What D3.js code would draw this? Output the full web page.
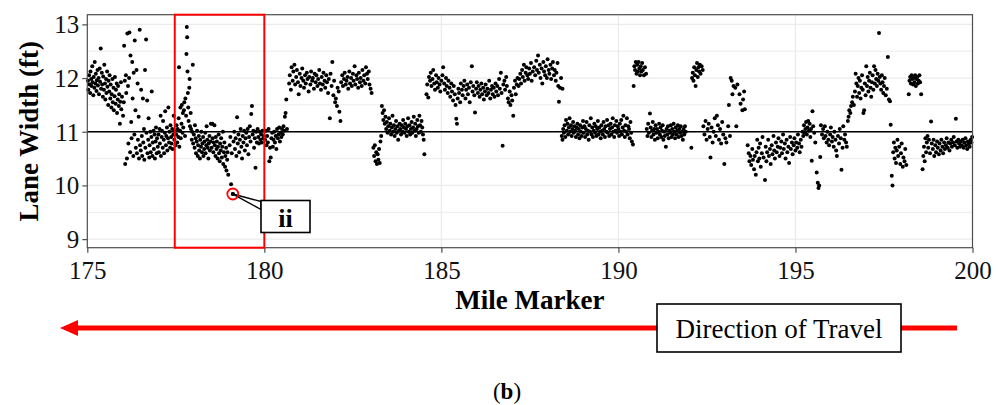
<!DOCTYPE html>
<html>
<head>
<meta charset="utf-8">
<script src="https://cdn.jsdelivr.net/npm/d3@7"></script>
<style>
  body { margin: 0; background: #fff; }
  svg { display: block; }
</style>
</head>
<body>
<div id="chart"></div>
<script>
// lane width readings (mile marker, width in ft), split by stretch of road
const seg175 = [
  [175.02,11.95],[175.03,11.78],[175.05,12.05],[175.06,11.88],[175.08,11.72],[175.09,12.12],[175.11,11.98],[175.12,11.85],[175.14,12.22],[175.15,11.92],
  [175.17,11.68],[175.18,12.02],[175.2,11.82],[175.21,12.3],[175.23,11.9],[175.24,12.08],[175.26,11.76],[175.27,11.96],[175.29,12.15],[175.3,11.86],
  [175.32,12.0],[175.33,11.7],[175.35,12.18],[175.36,11.93],[175.38,12.55],[175.39,11.8],[175.41,12.1],[175.42,11.88],[175.44,11.65],[175.45,12.03],
  [175.47,11.78],[175.48,12.25],[175.5,11.9],[175.51,11.6],[175.53,11.98],[175.54,11.72],[175.56,12.12],[175.57,11.84],[175.59,11.5],[175.6,11.95],
  [175.62,11.75],[175.63,12.05],[175.65,11.62],[175.66,11.88],[175.68,11.45],[175.69,11.7],[175.71,11.98],[175.72,11.55],[175.74,11.82],[175.75,11.4],
  [175.77,11.66],[175.78,12.02],[175.8,11.52],[175.81,11.78],[175.83,11.9],[175.84,11.35],[175.86,11.6],[175.87,11.85],[175.89,11.48],[175.9,11.7],
  [175.92,11.15],[175.93,11.56],[175.95,11.92],[175.96,11.42],[175.98,11.65],
  [176.01,11.3],[176.03,11.55],[176.04,12.6],[176.06,11.95],[176.07,10.4],[176.09,12.05],[176.1,11.72],[176.12,10.5],[176.13,12.83],[176.15,11.85],
  [176.16,10.78],[176.18,12.0],[176.19,12.85],[176.21,10.62],[176.22,12.42],[176.24,11.18],[176.25,10.88],[176.27,12.3],[176.28,11.62],[176.3,10.55],
  [176.31,12.1],[176.33,10.95],[176.34,12.7],[176.36,11.4],[176.37,10.7],[176.39,12.15],[176.4,10.6],[176.42,11.9],[176.43,10.85],[176.45,11.28],
  [176.46,10.5],[176.48,12.9],[176.49,10.75],
  [176.51,10.65],[176.52,11.78],[176.54,10.92],[176.55,10.55],[176.57,11.62],[176.58,10.8],[176.6,11.05],[176.61,10.48],[176.63,12.15],[176.64,10.7],
  [176.66,12.72],[176.67,10.98],[176.69,11.58],[176.7,10.6],[176.72,10.85],[176.73,11.25],[176.75,10.52],[176.76,10.75],[176.78,11.0],[176.79,10.62],
  [176.81,10.9],[176.82,11.75],[176.84,10.55],[176.85,10.8],[176.87,11.02],[176.88,10.68],[176.9,10.95],[176.91,10.5],[176.93,10.82],[176.94,11.08],
  [176.96,10.6],[176.97,10.88],[176.99,10.72],
  [177.01,10.95],[177.02,10.62],[177.04,11.05],[177.05,10.78],[177.07,11.3],[177.08,10.55],[177.1,10.9],[177.11,11.02],[177.13,10.7],[177.14,11.2],
  [177.16,10.85],[177.17,10.6],[177.19,10.98],[177.2,11.38],[177.22,10.75],[177.23,10.92],[177.25,11.08],[177.26,10.65],[177.28,10.88],[177.29,11.45],
  [177.31,10.8],[177.32,11.0],[177.34,10.7],[177.35,11.12],[177.37,10.9],[177.38,10.78],[177.4,11.05],[177.41,10.68],[177.43,10.95],[177.44,11.3],
  [177.46,10.85],[177.47,11.02],[177.49,10.75]
];

const seg1775 = [
  [177.51,10.95],[177.52,11.12],[177.54,10.8],[177.55,11.05],[177.57,10.9],[177.58,11.25],[177.59,12.2],[177.6,10.72],[177.62,11.02],[177.63,11.45],
  [177.64,10.88],[177.66,11.15],[177.67,11.5],[177.69,10.98],[177.7,11.35],[177.71,11.08],[177.73,11.4],[177.74,11.55],[177.76,10.92],[177.77,11.62],
  [177.79,11.3],[177.8,12.45],[177.81,12.95],[177.82,12.76],[177.83,12.12],[177.84,11.72],[177.85,11.45],[177.86,11.2],[177.88,11.82],[177.89,11.98],
  [177.9,11.1],[177.92,11.35],[177.93,11.05],[177.95,10.85],[177.96,11.0],[177.98,12.25],[177.99,10.78],
  [178.01,10.95],[178.03,10.7],[178.04,11.12],[178.06,10.88],[178.07,10.6],[178.09,10.82],[178.1,11.02],[178.12,10.55],[178.13,10.75],[178.15,10.92],
  [178.16,10.65],[178.18,10.5],[178.19,10.85],[178.21,10.72],[178.22,11.0],[178.24,10.62],[178.25,10.78],[178.27,10.9],[178.28,10.55],[178.3,10.68],
  [178.31,10.82],[178.33,10.98],[178.34,10.6],[178.36,10.75],[178.37,11.1],[178.39,10.85],[178.4,10.7],[178.42,10.5],[178.43,10.78],[178.45,10.92],
  [178.46,10.65],[178.48,10.82],[178.49,11.15],
  [178.51,10.7],[178.53,11.15],[178.54,10.88],[178.56,10.62],[178.57,10.8],[178.59,11.12],[178.6,10.75],[178.62,10.55],[178.63,10.9],[178.65,10.68],
  [178.66,10.82],[178.68,10.5],[178.69,10.72],[178.71,10.95],[178.72,10.6],[178.74,10.45],[178.75,10.78],[178.77,10.65],[178.78,10.88],[178.8,10.52],
  [178.81,10.72],[178.83,11.0],[178.84,10.4],[178.86,10.62],[178.87,10.8],[178.89,10.35],[178.9,10.55],[178.92,10.7],[178.93,10.28],[178.95,10.48],
  [178.96,10.62],[178.98,10.2],
  [179.02,10.75],[179.04,10.9],[179.06,10.02],[179.08,10.6],[179.11,9.84],[179.13,10.82],[179.15,11.0],[179.17,10.68],[179.19,10.88],[179.21,10.55],
  [179.23,11.27],[179.25,10.78],[179.27,10.95],[179.29,10.62],[179.31,10.85],[179.33,11.05],[179.35,10.72],[179.37,10.5],[179.39,10.92],[179.41,10.8],
  [179.43,11.02],[179.45,10.65],[179.47,10.88],[179.49,10.98],
  [179.51,10.75],[179.53,11.05],[179.55,10.58],[179.57,10.9],[179.59,11.1],[179.61,10.82],[179.63,11.33],[179.65,11.48],[179.67,10.95],[179.69,11.02],
  [179.71,10.7],[179.73,10.88],[179.75,10.33],[179.77,11.0],[179.79,10.8],[179.81,11.05],[179.83,10.9],[179.85,10.78],[179.87,11.0],[179.89,10.85],
  [179.91,10.95],[179.93,10.8],[179.95,11.02],[179.97,10.88],[179.99,10.92]
];

const seg180 = [
  [180.02,10.85],[180.04,11.02],[180.06,10.75],[180.08,10.92],[180.1,10.8],[180.12,11.05],[180.14,10.45],[180.16,10.7],[180.18,10.52],[180.2,10.88],
  [180.22,10.98],[180.24,10.72],[180.26,10.85],[180.28,11.0],[180.3,10.8],[180.32,10.92],[180.34,10.68],[180.36,11.05],[180.38,10.88],[180.4,10.95],
  [180.42,11.08],[180.44,10.82],[180.46,10.98],[180.48,10.9],[180.5,11.05],[180.52,10.95],[180.54,11.1],[180.56,11.02],[180.58,11.28],[180.6,11.35],
  [180.62,11.6],[180.64,11.05],
  [180.7,11.9],[180.72,12.05],[180.75,11.78],[180.77,12.2],[180.8,11.95],[180.82,12.12],[180.85,12.25],[180.87,11.88],[180.9,12.02],[180.92,12.15],
  [180.95,11.92],[180.97,11.7],[181.0,12.08],[181.02,11.85],[181.05,12.0],[181.07,12.18],[181.1,11.95],[181.12,11.82],[181.15,12.05],[181.17,11.9],
  [181.2,12.1],[181.22,11.98],[181.25,11.75],[181.27,12.02],[181.3,11.88],[181.32,12.12],[181.35,11.95],[181.37,12.0],[181.4,11.8],[181.42,12.08],
  [181.45,11.92],[181.47,12.05],[181.5,11.85],[181.52,11.98],[181.55,12.15],[181.57,11.9],[181.6,11.78],[181.62,12.02],[181.65,11.88],[181.67,12.1],
  [181.7,11.95],[181.72,11.82],[181.75,12.05],[181.77,11.92],[181.8,11.72],[181.82,11.98],[181.85,11.25],[181.87,12.08],[181.9,11.85],[181.92,12.3],
  [181.95,11.68],[181.97,11.95],[182.0,11.55],
  [182.02,11.62],[182.05,11.48],[182.07,11.82],[182.1,11.75],[182.12,11.37],[182.15,11.2],[182.17,11.92],[182.2,12.05],[182.22,11.85],[182.25,11.98],
  [182.27,12.1],[182.3,11.88],[182.32,11.95],[182.35,12.02],[182.37,11.8],[182.4,12.12],[182.42,11.9],[182.45,12.0],[182.47,11.85],[182.5,12.08],
  [182.52,11.95],[182.55,12.22],[182.57,11.88],[182.6,12.05],[182.62,11.98],[182.65,11.82],[182.67,12.1],[182.7,11.92],[182.72,12.0],[182.75,11.85],
  [182.77,12.15],[182.8,11.95],[182.82,12.05],[182.85,11.9],[182.87,12.2],[182.9,12.08],[182.92,11.98],[182.95,12.12],[182.97,11.88],[183.0,11.8],
  [183.03,11.72],
  [183.08,10.7],[183.1,10.55],[183.12,10.75],[183.14,10.45],[183.16,10.62],[183.18,10.4],[183.2,10.58],[183.22,10.48],[183.24,10.68],[183.26,10.42],
  [183.28,10.82],[183.3,10.92],
  [183.32,11.48],[183.34,11.35],[183.36,11.22],[183.38,11.4],[183.4,11.15],[183.42,11.28],[183.44,11.05],[183.46,11.18],[183.48,10.98],[183.5,11.1],
  [183.52,11.25],[183.54,11.02],[183.56,11.15],[183.58,10.95],[183.6,11.08],[183.62,11.3],[183.64,11.0],[183.66,11.12],[183.68,10.92],[183.7,11.05],
  [183.72,11.2],[183.74,10.98],[183.76,11.1],[183.78,10.85],[183.8,11.02],[183.82,11.15],[183.84,11.05],[183.86,10.95],[183.88,11.12],[183.9,11.0],
  [183.92,11.22],[183.94,11.08],[183.96,10.98],[183.98,11.15],[184.0,11.05],[184.02,10.92],[184.04,11.1],[184.06,11.25],[184.08,11.0],[184.1,11.12],
  [184.12,10.95],[184.14,11.05],[184.16,11.18],[184.18,10.98],[184.2,11.08],[184.22,11.28],[184.24,11.02],[184.26,11.15],[184.28,10.92],[184.3,11.05],
  [184.32,11.22],[184.34,11.1],[184.36,10.98],[184.38,11.3],[184.4,11.12],[184.42,11.0],[184.44,11.2],[184.46,11.08],[184.48,10.95],[184.5,10.85],
  [184.52,10.58],
  [184.58,11.7],[184.6,11.88],[184.63,11.64],[184.65,12.02],[184.68,11.95],[184.7,12.1],[184.72,11.85],[184.75,11.98],[184.77,12.15],[184.8,11.9],
  [184.82,11.78],[184.85,12.05],[184.87,11.92],[184.9,11.82],[184.92,12.0],[184.95,11.88],[184.97,11.75],[185.0,11.95]
];

const seg185 = [
  [185.03,12.05],[185.05,12.2],[185.08,11.9],[185.1,11.78],[185.13,12.0],[185.15,11.85],[185.18,11.72],[185.2,11.95],[185.23,11.82],[185.25,11.65],
  [185.28,11.9],[185.3,11.75],[185.33,11.58],[185.35,11.85],[185.38,11.7],[185.4,11.5],[185.42,11.24],[185.44,11.15],[185.46,11.62],[185.48,11.8],
  [185.5,11.72],[185.53,11.55],[185.55,11.9],[185.58,11.78],[185.6,11.68],[185.63,11.85],[185.65,11.95],[185.68,11.62],[185.7,11.78],[185.73,11.88],
  [185.75,11.7],[185.78,11.82],[185.8,11.55],[185.83,11.92],[185.86,12.22],[185.88,11.75],[185.9,11.85],[185.93,11.68],[185.95,11.36],[185.98,11.8],
  [186.0,11.92],[186.03,11.72],[186.05,11.85],[186.08,11.65],[186.1,11.78],[186.13,11.9],[186.15,11.7],[186.18,11.82],[186.2,11.6],[186.23,11.75],
  [186.25,11.88],[186.28,11.68],[186.3,11.8],[186.33,11.72],[186.35,11.95],[186.38,11.62],[186.4,11.78],[186.43,11.85],[186.45,11.7],[186.48,11.82],
  [186.5,11.65],[186.53,11.9],[186.55,11.75],[186.58,11.85],[186.6,11.68],[186.63,11.98],[186.65,11.8],[186.68,12.1],[186.7,11.72],[186.73,10.74],
  [186.75,11.88],[186.78,11.95],[186.8,11.78],[186.83,12.02],[186.85,11.85],[186.88,11.62],[186.9,11.55],[186.93,11.75],[186.95,11.5],[186.98,11.68],
  [187.0,11.58],[187.03,11.3],[187.05,11.82],[187.08,11.95],[187.1,11.7],[187.13,11.88],[187.15,12.0],[187.18,11.85],[187.2,11.98],[187.23,12.08],
  [187.25,11.9],[187.28,12.15],[187.3,12.02],[187.33,12.25],[187.35,11.95],[187.38,12.1],[187.4,12.2],[187.43,12.05],[187.45,11.98],[187.48,12.18],
  [187.5,12.08],[187.53,12.28],[187.55,11.95],[187.58,12.12],
  [187.62,12.2],[187.65,12.05],[187.68,12.32],[187.7,12.15],[187.73,12.42],[187.75,12.1],[187.78,12.25],[187.8,12.0],[187.83,12.18],[187.85,11.9],
  [187.88,12.3],[187.9,12.12],[187.93,12.05],[187.95,12.22],[187.98,12.0],[188.0,12.35],[188.03,12.15],[188.05,12.08],[188.08,12.25],[188.1,11.98],
  [188.13,12.18],[188.15,12.3],[188.18,12.05],[188.2,12.15],[188.23,11.95],[188.25,12.1],[188.28,12.28],[188.3,11.85],[188.32,11.56],[188.35,11.82],
  [188.38,12.0],[188.42,11.8],
  [188.4,10.92],[188.42,10.85],[188.44,11.05],[188.46,10.98],[188.48,11.12],[188.5,10.9],[188.52,11.22],[188.54,11.02],[188.56,11.15],[188.58,10.95],
  [188.6,11.08],[188.62,11.25],[188.64,11.0],[188.66,11.12],[188.68,10.92],[188.7,11.05],[188.72,11.18],[188.74,10.98],[188.76,11.1],[188.78,11.02],
  [188.8,10.9],[188.82,11.08],[188.84,11.15],[188.86,10.95],[188.88,11.05],[188.9,10.88],[188.92,11.12],[188.94,11.0],[188.96,10.92],[188.98,11.08],
  [189.0,11.2],[189.02,10.98],[189.04,11.1],[189.06,10.9],[189.08,11.05],[189.1,11.18],[189.12,10.95],[189.14,11.02],[189.16,10.85],[189.18,11.12],
  [189.2,11.0],[189.22,11.25],[189.24,10.95],[189.26,11.08],[189.28,10.9],[189.3,11.02],[189.32,11.15],[189.34,10.98],[189.36,11.1],[189.38,10.92],
  [189.4,11.05],[189.42,11.2],[189.44,10.95],[189.46,11.08],[189.48,11.0],[189.5,10.88],[189.52,11.12],[189.54,11.02],[189.56,10.95],[189.58,11.18],
  [189.6,11.05],[189.62,10.9],[189.64,11.1],[189.66,11.0],[189.68,11.22],[189.7,10.98],[189.72,11.12],[189.74,10.92],[189.76,11.05],[189.78,11.15],
  [189.8,10.95],[189.82,11.08],[189.84,11.25],[189.86,11.0],[189.88,10.9],[189.9,11.12],[189.92,11.02],[189.94,11.2],[189.96,10.98],[189.98,11.1]
];

const seg190 = [
  [190.0,11.05],[190.02,10.92],[190.04,11.15],[190.06,11.0],[190.08,11.22],[190.1,10.95],[190.12,11.08],[190.14,11.3],[190.16,11.02],[190.18,10.9],
  [190.2,11.12],[190.22,11.0],[190.24,11.25],[190.26,10.95],[190.28,11.1],[190.3,11.05],[190.32,10.88],[190.34,11.18],[190.36,10.98],[190.38,10.82],
  [190.41,10.76],
  [190.43,11.85],[190.45,12.22],[190.47,12.15],[190.49,12.3],[190.51,12.08],[190.53,12.25],[190.55,12.12],[190.57,12.3],[190.59,12.18],[190.61,12.05],
  [190.63,12.22],[190.65,12.12],[190.67,12.28],[190.69,12.15],[190.72,12.05],[190.75,12.2],[190.78,12.08],
  [190.8,11.05],[190.82,10.92],[190.84,11.15],[190.86,10.98],[190.89,11.34],[190.91,11.08],[190.93,10.9],[190.95,11.02],[190.97,11.18],[190.99,10.95],
  [191.01,11.05],[191.03,10.85],[191.05,11.12],[191.07,10.98],[191.09,11.05],[191.11,10.88],[191.13,11.0],[191.15,11.15],[191.17,10.95],[191.19,11.08],
  [191.21,10.9],[191.23,11.02],[191.25,11.12],[191.27,10.85],[191.29,11.0],[191.31,10.92],[191.34,10.72],[191.36,11.05],[191.38,10.95],[191.4,11.1],
  [191.42,10.88],[191.44,11.02],[191.46,10.98],[191.48,11.12],[191.5,10.9],[191.52,11.05],[191.54,10.95],[191.56,11.15],[191.58,11.0],[191.6,10.88],
  [191.62,11.08],[191.64,10.95],[191.66,11.02],[191.68,11.12],[191.7,10.9],[191.72,11.05],[191.74,10.98],[191.76,11.1],[191.78,10.92],[191.8,11.0],
  [191.82,10.85],[191.84,11.05],[191.86,10.95],[191.88,11.1],[191.9,11.0],
  [192.06,10.7],[192.08,12.0],[192.1,12.1],[192.12,11.95],[192.14,12.2],[192.16,12.05],[192.18,11.85],[192.2,12.15],[192.22,12.28],[192.24,12.02],
  [192.26,12.2],[192.28,12.12],[192.3,12.25],[192.32,12.08],[192.35,12.22],[192.38,12.15],
  [192.4,11.1],[192.43,10.95],[192.46,11.2],[192.49,10.85],[192.52,11.05],[192.55,11.15],[192.58,10.9],[192.6,10.52],[192.63,11.08],[192.66,10.8],
  [192.69,11.0],[192.72,11.25],[192.75,10.92],[192.78,11.3],[192.81,11.12],[192.84,10.85],[192.87,11.05],[192.9,10.78],[192.93,11.18],[192.96,10.95],
  [192.99,10.4],[193.02,10.88],[193.05,10.8],[193.1,11.1],[193.15,10.92],
  [193.12,11.5],[193.17,12.0],[193.2,11.95],[193.22,11.7],[193.25,11.85],[193.3,11.82],[193.33,11.1],[193.36,11.88],[193.42,11.7],[193.45,11.52],
  [193.5,11.4],[193.52,11.6],[193.55,11.75],[193.57,11.42],
  [193.65,10.75],[193.68,10.6],[193.7,10.45],[193.73,10.55],[193.75,10.38],[193.78,10.68],[193.8,10.48],[193.83,10.3],[193.85,10.55],[193.88,10.2],
  [193.9,10.62],[193.92,10.85],[193.94,10.45],[193.96,10.7],[193.98,10.5],[194.0,10.78],[194.02,10.35],[194.05,10.6],[194.07,10.9],[194.1,10.52],
  [194.14,10.1],[194.16,10.72],[194.18,10.45],[194.2,10.62],[194.23,10.85],[194.25,10.55],[194.28,10.68],[194.3,10.4],[194.33,10.75],[194.35,10.58],
  [194.38,10.92],[194.4,10.65],[194.42,10.5],[194.45,10.8],[194.47,10.62],[194.5,10.72],[194.52,10.88],[194.55,10.55],[194.57,10.7],[194.6,10.82],
  [194.62,10.6],[194.65,10.95],[194.67,10.68],[194.7,10.78],[194.72,10.5],[194.75,10.85],[194.77,10.62],[194.8,10.72],[194.82,10.42],[194.85,10.9],
  [194.87,10.68],[194.9,10.8],[194.92,10.58],[194.95,10.75],[194.97,10.88]
];

const seg195 = [
  [195.0,10.65],[195.02,10.8],[195.05,10.7],[195.07,10.95],[195.1,10.78],[195.12,10.62],[195.15,10.85],[195.17,10.72],
  [195.2,11.0],[195.22,10.92],[195.24,11.12],[195.26,10.98],[195.28,11.05],[195.3,11.18],[195.32,10.95],[195.34,11.08],[195.36,11.2],[195.38,11.02],
  [195.4,11.15],[195.42,10.9],[195.44,11.05],[195.46,10.46],[195.48,11.38],[195.5,11.1],[195.53,10.98],[195.56,10.8],[195.6,10.24],[195.63,10.05],
  [195.65,9.95],[195.67,10.0],[195.7,10.53],
  [195.72,11.12],[195.75,10.95],[195.78,11.05],[195.8,10.88],[195.83,11.1],[195.85,10.92],[195.88,10.8],[195.9,11.0],[195.93,10.85],[195.95,10.75],
  [195.98,10.95],[196.0,11.08],[196.03,10.82],[196.05,10.9],[196.08,10.72],[196.1,11.0],[196.13,10.85],[196.15,10.65],[196.17,10.55],[196.2,10.92],
  [196.23,10.78],[196.25,11.05],[196.28,10.88],[196.3,10.29],[196.33,10.7],[196.35,11.1],[196.38,10.85],[196.4,10.95],[196.43,10.8],[196.45,10.72],
  [196.48,11.2],[196.5,11.28],[196.52,11.4],[196.55,11.35],[196.57,11.48],[196.6,11.55],[196.62,11.65],[196.65,11.5],
  [196.68,11.75],[196.7,12.08],[196.72,11.9],[196.74,11.65],[196.76,11.85],[196.78,12.0],[196.8,11.72],[196.82,11.95],[196.84,11.62],[196.86,11.82],
  [196.88,12.05],[196.9,11.78],[196.92,11.35],[196.94,11.4],[196.96,11.9],[196.98,11.68],[197.0,12.22],[197.02,11.85],[197.04,12.02],[197.06,11.75],
  [197.08,11.95],[197.1,12.1],[197.12,11.82],[197.14,11.65],[197.16,11.92],[197.18,12.05],[197.2,11.78],[197.22,12.22],[197.24,11.9],[197.26,12.15],
  [197.28,11.98],[197.3,11.85],[197.32,12.08],[197.34,11.95],[197.36,12.84],[197.38,12.02],[197.4,11.9],[197.42,11.78],[197.44,12.05],[197.46,11.92],
  [197.48,11.72],[197.5,11.85],[197.52,12.0],[197.55,11.68],[197.58,11.8],[197.61,12.39],[197.64,11.6],[197.67,11.57],[197.69,11.13],
  [197.72,10.18],[197.74,10.0],[197.76,10.62],[197.78,10.8],[197.8,10.5],[197.82,10.7],[197.84,10.42],[197.86,10.65],[197.88,10.85],[197.9,10.55],
  [197.93,10.72],[197.96,10.4],[197.98,10.6],[198.0,10.78],[198.03,10.35],[198.05,10.52],[198.08,10.45],[198.1,10.68],[198.13,10.38],
  [198.2,11.7],[198.22,11.95],[198.24,12.02],[198.26,11.9],[198.28,12.05],[198.3,11.98],[198.32,11.88],[198.34,12.0],[198.36,11.92],[198.38,12.05],
  [198.4,11.85],[198.42,11.98],[198.44,12.02],[198.46,11.9],[198.48,11.95],[198.5,12.05],[198.52,11.92],[198.55,11.7],
  [198.59,10.3],[198.61,10.55],[198.63,10.72],[198.65,10.45],[198.67,10.88],[198.69,10.62],[198.71,10.8],[198.73,10.92],[198.75,10.7],[198.77,10.85],
  [198.8,10.6],[198.83,11.19],[198.85,10.78],[198.88,10.68],[198.9,10.85],[198.92,10.55],[198.95,10.75],[198.97,10.62],[199.0,10.82],[199.02,10.7],
  [199.05,10.58],[199.07,10.78],[199.1,10.65],[199.12,10.85],[199.15,10.72],[199.17,10.6],[199.2,10.8],[199.22,10.68],[199.25,10.75],[199.27,10.88],
  [199.3,10.7],[199.32,10.8],[199.35,10.65],[199.37,10.78],[199.4,10.85],[199.42,10.72],[199.45,10.8],[199.47,10.9],[199.5,10.75],[199.53,11.24],
  [199.55,10.82],[199.57,10.7],[199.6,10.85],[199.62,10.78],[199.65,10.72],[199.67,10.82],[199.7,10.75],[199.72,10.85],[199.75,10.7],[199.77,10.8],
  [199.8,10.88],[199.82,10.75],[199.85,10.68],[199.87,10.82],[199.9,10.78],[199.92,10.72],[199.95,10.85],[199.97,10.8],[199.99,10.9]
];

const xTicks = [175, 180, 185, 190, 195, 200];
const yTicks = [9, 10, 11, 12, 13];
const yMinor = [9.5, 10.5, 11.5, 12.5];
const designWidth = 11;
const highlight = [177.47, 180];
const callout = {mile: 179.11, width: 9.84, label: "ii"};

const W = 1000, H = 405,
      pLeft = 87.3, pRight = 972.5, pTop = 14.7, pBottom = 247.7,
      serif = "'Liberation Serif', 'Times New Roman', serif";

const svg = d3.select("#chart").append("svg")
    .attr("width", W)
    .attr("height", H);

svg.append("rect").attr("width", W).attr("height", H).attr("fill", "#fff");

const x = d3.scaleLinear().domain([175, 200]).range([pLeft, pRight]);
const y = d3.scaleLinear().domain([8.84, 13.18]).range([pBottom, pTop]);

// grid
const grid = svg.append("g");
grid.selectAll(".gy").data(yTicks.concat(yMinor)).join("line")
    .attr("x1", pLeft).attr("x2", pRight)
    .attr("y1", d => y(d)).attr("y2", d => y(d))
    .attr("stroke", "#ebebeb")
    .attr("stroke-width", d => Number.isInteger(d) ? 1.3 : 1);
grid.selectAll(".gx").data(xTicks.slice(1, -1)).join("line")
    .attr("x1", d => x(d)).attr("x2", d => x(d))
    .attr("y1", pTop).attr("y2", pBottom)
    .attr("stroke", "#ebebeb")
    .attr("stroke-width", 1.3);

// 11 ft reference
svg.append("line")
    .attr("x1", pLeft).attr("x2", pRight)
    .attr("y1", y(designWidth)).attr("y2", y(designWidth))
    .attr("stroke", "#000")
    .attr("stroke-width", 1.7);

// points
const allPoints = [].concat(seg175, seg1775, seg180, seg185, seg190, seg195);
svg.append("g").selectAll("circle").data(allPoints).join("circle")
    .attr("cx", d => x(d[0]))
    .attr("cy", d => y(d[1]))
    .attr("r", 2)
    .attr("fill", "#000");

// panel border
svg.append("rect")
    .attr("x", pLeft).attr("y", pTop)
    .attr("width", pRight - pLeft).attr("height", pBottom - pTop)
    .attr("fill", "none")
    .attr("stroke", "#4d4d4d")
    .attr("stroke-width", 1.2);

// axes
const xAxis = svg.append("g")
    .attr("transform", `translate(0,${pBottom})`)
    .call(d3.axisBottom(x).tickValues(xTicks).tickSize(5).tickPadding(9).tickFormat(d3.format("d")));
const yAxis = svg.append("g")
    .attr("transform", `translate(${pLeft},0)`)
    .call(d3.axisLeft(y).tickValues(yTicks).tickSize(5).tickPadding(3).tickFormat(d3.format("d")));
[xAxis, yAxis].forEach(ax => {
    ax.select(".domain").remove();
    ax.selectAll(".tick line").attr("stroke", "#4d4d4d").attr("stroke-width", 1.2);
    ax.selectAll(".tick text")
      .attr("fill", "#111")
      .attr("font-family", serif)
      .attr("font-size", 25);
});
xAxis.selectAll(".tick text").attr("dy", "0.71em");
yAxis.selectAll(".tick text").attr("dy", "0.34em");

// axis titles
svg.append("text")
    .attr("x", (pLeft + pRight) / 2)
    .attr("y", 309)
    .attr("text-anchor", "middle")
    .attr("font-family", serif)
    .attr("font-weight", "bold")
    .attr("font-size", 27)
    .attr("fill", "#000")
    .text("Mile Marker");

svg.append("text")
    .attr("transform", `translate(38,${(pTop + pBottom) / 2}) rotate(-90)`)
    .attr("text-anchor", "middle")
    .attr("font-family", serif)
    .attr("font-weight", "bold")
    .attr("font-size", 27)
    .attr("fill", "#000")
    .text("Lane Width (ft)");

// highlighted stretch
svg.append("rect")
    .attr("x", x(highlight[0])).attr("y", pTop)
    .attr("width", x(highlight[1]) - x(highlight[0]))
    .attr("height", pBottom - pTop)
    .attr("fill", "none")
    .attr("stroke", "#f00")
    .attr("stroke-width", 2);

// callout "ii"
const cx = x(callout.mile), cy = y(callout.width),
      bx = 261, by = 200.5, bw = 49, bh = 32;
svg.append("path")
    .attr("d", `M${cx},${cy} L${bx},${by + 1} L${bx},${by + 9} Z`)
    .attr("fill", "#fff")
    .attr("stroke", "#000")
    .attr("stroke-width", 1.4)
    .attr("stroke-linejoin", "round");
svg.append("circle")
    .attr("cx", cx).attr("cy", cy).attr("r", 5.5)
    .attr("fill", "none")
    .attr("stroke", "#f00")
    .attr("stroke-width", 1.8);
svg.append("circle")
    .attr("cx", cx).attr("cy", cy).attr("r", 2)
    .attr("fill", "#000");
svg.append("rect")
    .attr("x", bx).attr("y", by).attr("width", bw).attr("height", bh)
    .attr("fill", "#fff")
    .attr("stroke", "#000")
    .attr("stroke-width", 1.6);
svg.append("text")
    .attr("x", bx + bw / 2).attr("y", by + 26)
    .attr("text-anchor", "middle")
    .attr("font-family", serif)
    .attr("font-weight", "bold")
    .attr("font-size", 26)
    .text(callout.label);

// direction of travel arrow
const arrowY = 328;
svg.append("line")
    .attr("x1", 957).attr("x2", 74)
    .attr("y1", arrowY).attr("y2", arrowY)
    .attr("stroke", "#f00")
    .attr("stroke-width", 5);
svg.append("path")
    .attr("d", `M60,${arrowY} L78,${arrowY - 8} L78,${arrowY + 8} Z`)
    .attr("fill", "#f00");
svg.append("rect")
    .attr("x", 657).attr("y", 304).attr("width", 244).attr("height", 48)
    .attr("fill", "#fff")
    .attr("stroke", "#000")
    .attr("stroke-width", 1.6);
svg.append("text")
    .attr("x", 779).attr("y", 338)
    .attr("text-anchor", "middle")
    .attr("font-family", serif)
    .attr("font-size", 27)
    .text("Direction of Travel");

// panel caption
const cap = svg.append("text")
    .attr("x", 507).attr("y", 399)
    .attr("text-anchor", "middle")
    .attr("font-family", serif)
    .attr("font-size", 23)
    .attr("fill", "#000");
cap.append("tspan").attr("font-weight", "normal").text("(");
cap.append("tspan").attr("font-weight", "bold").text("b");
cap.append("tspan").attr("font-weight", "normal").text(")");
</script>
</body>
</html>
